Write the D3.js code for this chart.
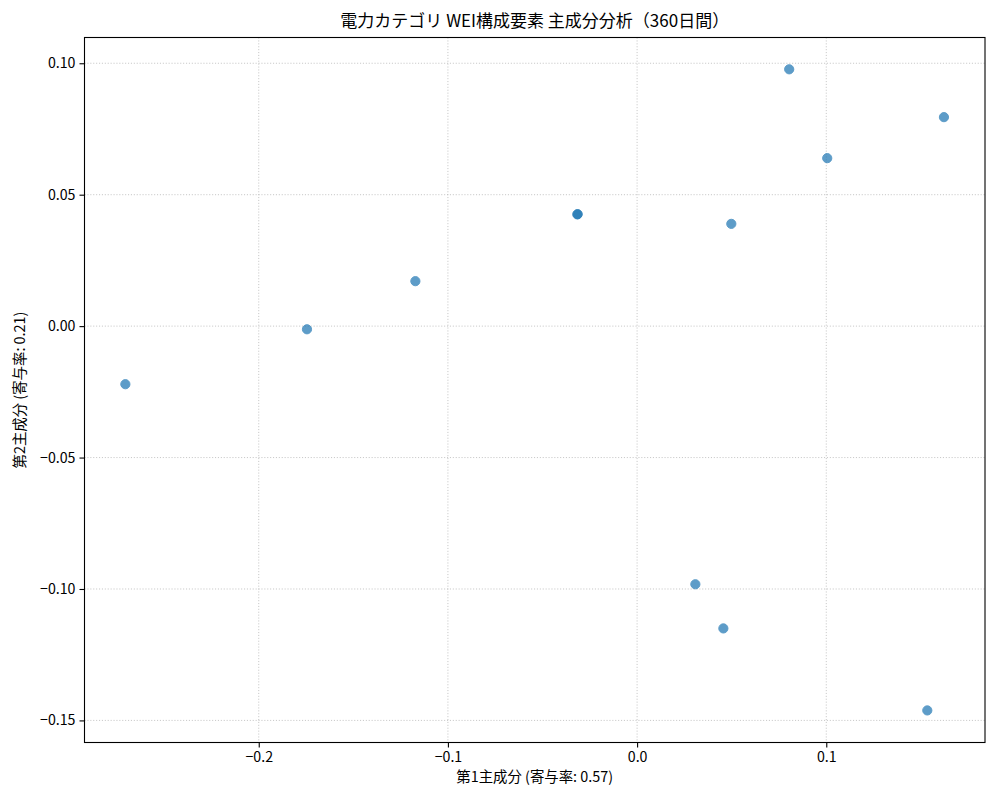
<!DOCTYPE html>
<html lang="ja">
<head>
  <meta charset="UTF-8" />
  <title>電力カテゴリ WEI構成要素 主成分分析</title>
  <style>
    body { margin: 0; background: #fff; font-family: "Noto Sans CJK JP", "DejaVu Sans", sans-serif; }
    .tick text { font-family: "Noto Sans CJK JP", "DejaVu Sans", sans-serif; }
  </style>
</head>
<body>
  <div id="chart"></div>

  <script src="https://d3js.org/d3.v7.min.js"></script>

  <script>
    // principal component scores
    const pc1 = [-0.2705, -0.1745, -0.1172, -0.0316, -0.0314, 0.0498, 0.0804, 0.1005, 0.1622, 0.0308, 0.0456, 0.1534];
    const pc2 = [-0.0221, -0.0012, 0.0171, 0.0425, 0.0426, 0.0389, 0.0977, 0.0639, 0.0795, -0.0982, -0.1150, -0.1462];

    const xTicks = [-0.2, -0.1, 0.0, 0.1];
    const yTicks = [0.10, 0.05, 0.00, -0.05, -0.10, -0.15];

    const titleText = "電力カテゴリ WEI構成要素 主成分分析（360日間）";
    const xLabel = "第1主成分 (寄与率: 0.57)";
    const yLabel = "第2主成分 (寄与率: 0.21)";

    const W = 1000, H = 800;
    const margin = { top: 37.5, right: 15, bottom: 57.5, left: 84.5 };
    const width = W - margin.left - margin.right,
          height = H - margin.top - margin.bottom;

    const svg = d3.select("#chart").append("svg")
      .attr("width", W)
      .attr("height", H);

    const g = svg.append("g")
      .attr("transform", `translate(${margin.left},${margin.top})`);

    const x = d3.scaleLinear().domain([-0.2921, 0.1839]).range([0, width]);
    const y = d3.scaleLinear().domain([-0.1584, 0.1098]).range([height, 0]);

    const minus = s => s.replace("-", "\u2212");

    // grid
    g.append("g").selectAll("line").data(xTicks).join("line")
      .attr("x1", d => x(d)).attr("x2", d => x(d))
      .attr("y1", 0).attr("y2", height)
      .attr("stroke", "#b0b0b0").attr("stroke-opacity", 0.7)
      .attr("stroke-width", 1).attr("stroke-dasharray", "1.1 1.8");
    g.append("g").selectAll("line").data(yTicks).join("line")
      .attr("y1", d => y(d)).attr("y2", d => y(d))
      .attr("x1", 0).attr("x2", width)
      .attr("stroke", "#b0b0b0").attr("stroke-opacity", 0.7)
      .attr("stroke-width", 1).attr("stroke-dasharray", "1.1 1.8");

    // points
    g.append("g").selectAll("circle").data(pc1).join("circle")
      .attr("cx", d => x(d))
      .attr("cy", (d, i) => y(pc2[i]))
      .attr("r", 4.6)
      .attr("fill", "#1f77b4")
      .attr("stroke", "#1f77b4")
      .attr("stroke-width", 1)
      .attr("opacity", 0.72);

    // axes
    const xAxis = g.append("g")
      .attr("transform", `translate(0,${height})`)
      .call(d3.axisBottom(x).tickValues(xTicks).tickFormat(d => minus(d3.format(".1f")(d)))
        .tickSizeInner(5).tickSizeOuter(0).tickPadding(4));
    const yAxis = g.append("g")
      .call(d3.axisLeft(y).tickValues(yTicks).tickFormat(d => minus(d3.format(".2f")(d)))
        .tickSizeInner(5).tickSizeOuter(0).tickPadding(4));

    [xAxis, yAxis].forEach(a => {
      a.select(".domain").remove();
      a.selectAll(".tick line").attr("stroke", "#000").attr("stroke-width", 1.1);
      a.selectAll(".tick text").attr("font-size", "14.2px").attr("fill", "#000");
    });

    // frame
    g.append("rect")
      .attr("width", width).attr("height", height)
      .attr("fill", "none").attr("stroke", "#000").attr("stroke-width", 1.1);

    svg.append("text")
      .attr("x", margin.left + width / 2)
      .attr("y", 27)
      .attr("text-anchor", "middle")
      .attr("font-size", "17px")
      .text(titleText);

    svg.append("text")
      .attr("x", margin.left + width / 2)
      .attr("y", 782)
      .attr("text-anchor", "middle")
      .attr("font-size", "14.4px")
      .text(xLabel);

    svg.append("text")
      .attr("transform", `translate(25,${margin.top + height / 2}) rotate(-90)`)
      .attr("text-anchor", "middle")
      .attr("font-size", "14.4px")
      .text(yLabel);
  </script>
</body>
</html>
